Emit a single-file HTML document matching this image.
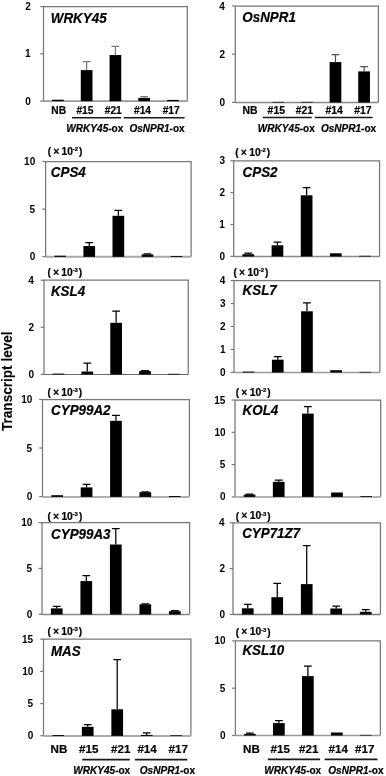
<!DOCTYPE html>
<html><head><meta charset="utf-8"><title>Transcript levels</title>
<style>
html,body{margin:0;padding:0;background:#fff;}
body{width:386px;height:776px;overflow:hidden;}
svg{display:block;}
text{font-family:'Liberation Sans', Arial, sans-serif;font-weight:bold;fill:#000;stroke:#000;stroke-width:0.2px;}
.tk{font-size:10px;stroke-width:0;}
.lb{font-size:10px;}
.gl{font-size:10.05px;}
.ti{font-size:13.4px;font-style:italic;}
.ex{font-size:10px;}
.sp{font-size:6px;}
.yl{font-size:14px;stroke-width:0.1px;}
</style></head>
<body>
<svg width="386" height="776" viewBox="0 0 386 776">
<rect width="386" height="776" fill="#fff"/>
<text class="yl" transform="translate(11.8 431.0) rotate(-90) scale(0.97 1)">Transcript level</text>
<path d="M43.5 101.15V6.55H187.3V101.15" fill="none" stroke="#777" stroke-width="1.25"/>
<path d="M43.5 101.15H187.3" stroke="#999" stroke-width="1.6"/>
<path d="M40.2 101.15H43.5" stroke="#777" stroke-width="1.2"/>
<text class="tk" x="25.15" y="104.65">0</text>
<path d="M40.2 53.85H43.5" stroke="#777" stroke-width="1.2"/>
<text class="tk" x="25.02" y="57.35">1</text>
<path d="M40.2 6.55H43.5" stroke="#777" stroke-width="1.2"/>
<text class="tk" x="25.14" y="10.05">2</text>
<rect x="52.03" y="99.7" width="11.7" height="1.45"/>
<rect x="80.79" y="70.1" width="11.7" height="31.05"/>
<path d="M86.64 70.1V61.6M82.74 61.6H90.54" stroke="#7a7a7a" stroke-width="1.25"/>
<rect x="109.55" y="55" width="11.7" height="46.15"/>
<path d="M115.4 55V46.4M111.5 46.4H119.3" stroke="#7a7a7a" stroke-width="1.25"/>
<rect x="138.31" y="97.9" width="11.7" height="3.25"/>
<path d="M144.16 97.9V96.6M140.26 96.6H148.06" stroke="#7a7a7a" stroke-width="1.25"/>
<rect x="167.07" y="99.9" width="11.7" height="1.25"/>
<text class="ti" transform="translate(50.82 22.65) scale(1 1.05)">WRKY45</text>
<text class="lb" x="51.32" y="114.3" style="font-size:10.2px">NB</text>
<text class="lb" x="76.43" y="114.3" style="font-size:10.2px">#15</text>
<text class="lb" x="104.73" y="114.3" style="font-size:10.2px">#21</text>
<text class="lb" x="134.03" y="114.3" style="font-size:10.2px">#14</text>
<text class="lb" x="162.63" y="114.3" style="font-size:10.2px">#17</text>
<path d="M72 117.75H121M123.8 117.75H184.6" stroke="#1a1a1a" stroke-width="1.6"/>
<text class="gl" x="66.36" y="132.1"><tspan font-style="italic">WRKY45</tspan>-ox</text>
<text class="gl" x="129.41" y="132.1"><tspan font-style="italic">OsNPR1</tspan>-ox</text>
<path d="M235.3 102.4V6H378.4V102.4" fill="none" stroke="#777" stroke-width="1.25"/>
<path d="M235.3 102.5H378.4" stroke="#858585" stroke-width="1.3"/>
<path d="M232 102.4H235.3" stroke="#777" stroke-width="1.2"/>
<text class="tk" x="219.55" y="105.9">0</text>
<path d="M232 54.2H235.3" stroke="#777" stroke-width="1.2"/>
<text class="tk" x="219.54" y="57.7">2</text>
<path d="M232 6H235.3" stroke="#777" stroke-width="1.2"/>
<text class="tk" x="219.19" y="9.5">4</text>
<rect x="272.38" y="101.9" width="11.7" height="0.6"/>
<rect x="301" y="101.9" width="11.7" height="0.6"/>
<rect x="329.62" y="62.1" width="11.7" height="40.4"/>
<path d="M335.47 62.1V54.6M331.57 54.6H339.37" stroke="#505050" stroke-width="1.25"/>
<rect x="358.24" y="71.4" width="11.7" height="31.1"/>
<path d="M364.09 71.4V66.5M360.19 66.5H367.99" stroke="#505050" stroke-width="1.25"/>
<text class="ti" transform="translate(242.35 22.45) scale(1 1.05)">OsNPR1</text>
<text class="lb" x="242.6" y="114" style="font-size:10.4px">NB</text>
<text class="lb" x="267.62" y="114" style="font-size:10.4px">#15</text>
<text class="lb" x="295.82" y="114" style="font-size:10.4px">#21</text>
<text class="lb" x="325.42" y="114" style="font-size:10.4px">#14</text>
<text class="lb" x="354.22" y="114" style="font-size:10.4px">#17</text>
<path d="M262.7 117.5H311.8M314.8 117.5H372.6" stroke="#1a1a1a" stroke-width="1.6"/>
<text class="gl" x="257.86" y="132"><tspan font-style="italic">WRKY45</tspan>-ox</text>
<text class="gl" x="320.91" y="132"><tspan font-style="italic">OsNPR1</tspan>-ox</text>
<path d="M45.6 256.65V161.5H191.1V256.65" fill="none" stroke="#777" stroke-width="1.25"/>
<path d="M45.6 256.85H191.1" stroke="#aaa" stroke-width="2"/>
<path d="M42.3 256.65H45.6" stroke="#777" stroke-width="1.2"/>
<text class="tk" x="29.65" y="260.15">0</text>
<path d="M42.3 209.07H45.6" stroke="#777" stroke-width="1.2"/>
<text class="tk" x="29.52" y="212.57">5</text>
<path d="M42.3 161.5H45.6" stroke="#777" stroke-width="1.2"/>
<text class="tk" x="24.09" y="165">10</text>
<rect x="54.3" y="255.7" width="11.7" height="1.15"/>
<rect x="83.4" y="246" width="11.7" height="10.85"/>
<path d="M89.25 246V242.6M85.35 242.6H93.15" stroke="#000" stroke-width="1.25"/>
<rect x="112.5" y="215.8" width="11.7" height="41.05"/>
<path d="M118.35 215.8V210.4M114.45 210.4H122.25" stroke="#000" stroke-width="1.25"/>
<rect x="141.6" y="254.4" width="11.7" height="2.45"/>
<path d="M147.45 254.4V253.8M143.55 253.8H151.35" stroke="#000" stroke-width="1.25"/>
<rect x="170.7" y="256" width="11.7" height="0.85"/>
<text class="ti" transform="translate(50.85 177.15) scale(1 1.05)">CPS4</text>
<text class="ex" x="47.7" y="155.3">(</text>
<text class="ex" x="53.2" y="155.2" style="font-size:10.4px">×</text>
<text class="ex" x="61.6" y="155.2" style="font-size:10.3px">10</text>
<text class="sp" x="72.8" y="151.3">-2</text>
<text class="ex" x="79.1" y="155.3">)</text>
<path d="M233.7 256.4V160.75H379.55V256.4" fill="none" stroke="#777" stroke-width="1.25"/>
<path d="M233.7 256.5H379.55" stroke="#888" stroke-width="1.4"/>
<path d="M230.4 256.4H233.7" stroke="#777" stroke-width="1.2"/>
<text class="tk" x="219.45" y="259.9">0</text>
<path d="M230.4 224.52H233.7" stroke="#777" stroke-width="1.2"/>
<text class="tk" x="219.32" y="228.02">1</text>
<path d="M230.4 192.63H233.7" stroke="#777" stroke-width="1.2"/>
<text class="tk" x="219.44" y="196.13">2</text>
<path d="M230.4 160.75H233.7" stroke="#777" stroke-width="1.2"/>
<text class="tk" x="219.4" y="164.25">3</text>
<rect x="242.44" y="254.2" width="11.7" height="2.3"/>
<path d="M248.28 254.2V253M244.38 253H252.19" stroke="#000" stroke-width="1.25"/>
<rect x="271.6" y="245.3" width="11.7" height="11.2"/>
<path d="M277.45 245.3V242.2M273.56 242.2H281.35" stroke="#000" stroke-width="1.25"/>
<rect x="300.77" y="195.3" width="11.7" height="61.2"/>
<path d="M306.62 195.3V187.5M302.73 187.5H310.52" stroke="#000" stroke-width="1.25"/>
<rect x="329.94" y="253.3" width="11.7" height="3.2"/>
<rect x="359.12" y="255.8" width="11.7" height="0.7"/>
<text class="ti" transform="translate(242.55 176.65) scale(1 1.05)">CPS2</text>
<text class="ex" x="235.3" y="155.8">(</text>
<text class="ex" x="240.8" y="155.7" style="font-size:10.4px">×</text>
<text class="ex" x="249.2" y="155.7" style="font-size:10.3px">10</text>
<text class="sp" x="260.4" y="151.8">-2</text>
<text class="ex" x="266.7" y="155.8">)</text>
<path d="M44 374.4V280.2H188.25V374.4" fill="none" stroke="#777" stroke-width="1.25"/>
<path d="M44 374.5H188.25" stroke="#6a6a6a" stroke-width="1.2"/>
<path d="M40.7 374.4H44" stroke="#777" stroke-width="1.2"/>
<text class="tk" x="28.55" y="377.9">0</text>
<path d="M40.7 327.3H44" stroke="#777" stroke-width="1.2"/>
<text class="tk" x="28.54" y="330.8">2</text>
<path d="M40.7 280.2H44" stroke="#777" stroke-width="1.2"/>
<text class="tk" x="28.19" y="283.7">4</text>
<rect x="52.57" y="373.6" width="11.7" height="0.9"/>
<rect x="81.43" y="371.5" width="11.7" height="3"/>
<path d="M87.28 371.5V363.2M83.38 363.2H91.18" stroke="#000" stroke-width="1.25"/>
<rect x="110.28" y="322.8" width="11.7" height="51.7"/>
<path d="M116.12 322.8V311.2M112.22 311.2H120.03" stroke="#000" stroke-width="1.25"/>
<rect x="139.13" y="371.1" width="11.7" height="3.4"/>
<path d="M144.98 371.1V370.6M141.08 370.6H148.88" stroke="#000" stroke-width="1.25"/>
<rect x="167.98" y="373.8" width="11.7" height="0.7"/>
<text class="ti" transform="translate(50.96 295.65) scale(1 1.05)">KSL4</text>
<text class="ex" x="47.4" y="275.9">(</text>
<text class="ex" x="52.9" y="275.8" style="font-size:10.4px">×</text>
<text class="ex" x="61.3" y="275.8" style="font-size:10.3px">10</text>
<text class="sp" x="72.5" y="271.9">-3</text>
<text class="ex" x="78.8" y="275.9">)</text>
<path d="M234 372.35V280.55H379.9V372.35" fill="none" stroke="#777" stroke-width="1.25"/>
<path d="M234 372.5H379.9" stroke="#999" stroke-width="1.3"/>
<path d="M230.7 372.35H234" stroke="#777" stroke-width="1.2"/>
<text class="tk" x="220.05" y="375.85">0</text>
<path d="M230.7 349.4H234" stroke="#777" stroke-width="1.2"/>
<text class="tk" x="219.92" y="352.9">1</text>
<path d="M230.7 326.45H234" stroke="#777" stroke-width="1.2"/>
<text class="tk" x="220.04" y="329.95">2</text>
<path d="M230.7 303.5H234" stroke="#777" stroke-width="1.2"/>
<text class="tk" x="220" y="307">3</text>
<path d="M230.7 280.55H234" stroke="#777" stroke-width="1.2"/>
<text class="tk" x="219.69" y="284.05">4</text>
<rect x="242.74" y="371.6" width="11.7" height="0.9"/>
<rect x="271.92" y="359.7" width="11.7" height="12.8"/>
<path d="M277.77 359.7V356.6M273.87 356.6H281.67" stroke="#000" stroke-width="1.25"/>
<rect x="301.1" y="311.3" width="11.7" height="61.2"/>
<path d="M306.95 311.3V302.9M303.05 302.9H310.85" stroke="#000" stroke-width="1.25"/>
<rect x="330.28" y="370.2" width="11.7" height="2.3"/>
<rect x="359.46" y="371.9" width="11.7" height="0.6"/>
<text class="ti" transform="translate(242.56 294.65) scale(1 1.05)">KSL7</text>
<text class="ex" x="233.6" y="276.2">(</text>
<text class="ex" x="239.1" y="276.1" style="font-size:10.4px">×</text>
<text class="ex" x="247.5" y="276.1" style="font-size:10.3px">10</text>
<text class="sp" x="258.7" y="272.2">-2</text>
<text class="ex" x="265" y="276.2">)</text>
<path d="M42.5 496.6V399.5H189.4V496.6" fill="none" stroke="#777" stroke-width="1.25"/>
<path d="M42.5 496.9H189.4" stroke="#b0b0b0" stroke-width="2"/>
<path d="M39.2 496.6H42.5" stroke="#777" stroke-width="1.2"/>
<text class="tk" x="26.75" y="500.1">0</text>
<path d="M39.2 448.05H42.5" stroke="#777" stroke-width="1.2"/>
<text class="tk" x="26.62" y="451.55">5</text>
<path d="M39.2 399.5H42.5" stroke="#777" stroke-width="1.2"/>
<text class="tk" x="21.19" y="403">10</text>
<rect x="51.34" y="495.2" width="11.7" height="1.7"/>
<rect x="80.72" y="487.4" width="11.7" height="9.5"/>
<path d="M86.57 487.4V484.3M82.67 484.3H90.47" stroke="#000" stroke-width="1.25"/>
<rect x="110.1" y="420.8" width="11.7" height="76.1"/>
<path d="M115.95 420.8V415.4M112.05 415.4H119.85" stroke="#000" stroke-width="1.25"/>
<rect x="139.48" y="492.2" width="11.7" height="4.7"/>
<path d="M145.33 492.2V491.8M141.43 491.8H149.23" stroke="#000" stroke-width="1.25"/>
<rect x="168.86" y="496" width="11.7" height="0.9"/>
<text class="ti" transform="translate(51.05 415.25) scale(1 1.05)">CYP99A2</text>
<text class="ex" x="47.4" y="395.8">(</text>
<text class="ex" x="52.9" y="395.7" style="font-size:10.4px">×</text>
<text class="ex" x="61.3" y="395.7" style="font-size:10.3px">10</text>
<text class="sp" x="72.5" y="391.8">-3</text>
<text class="ex" x="78.8" y="395.8">)</text>
<path d="M235 496.9V400.05H380.7V496.9" fill="none" stroke="#777" stroke-width="1.25"/>
<path d="M235 496.9H380.7" stroke="#b3b3b3" stroke-width="2"/>
<path d="M231.7 496.9H235" stroke="#777" stroke-width="1.2"/>
<text class="tk" x="219.95" y="500.4">0</text>
<path d="M231.7 464.62H235" stroke="#777" stroke-width="1.2"/>
<text class="tk" x="219.82" y="468.12">5</text>
<path d="M231.7 432.33H235" stroke="#777" stroke-width="1.2"/>
<text class="tk" x="214.39" y="435.83">10</text>
<path d="M231.7 400.05H235" stroke="#777" stroke-width="1.2"/>
<text class="tk" x="214.26" y="403.55">15</text>
<rect x="243.72" y="494.6" width="11.7" height="2.3"/>
<path d="M249.57 494.6V494M245.67 494H253.47" stroke="#000" stroke-width="1.25"/>
<rect x="272.86" y="481.8" width="11.7" height="15.1"/>
<path d="M278.71 481.8V480.1M274.81 480.1H282.61" stroke="#000" stroke-width="1.25"/>
<rect x="302" y="413.6" width="11.7" height="83.3"/>
<path d="M307.85 413.6V406.5M303.95 406.5H311.75" stroke="#000" stroke-width="1.25"/>
<rect x="331.14" y="492.5" width="11.7" height="4.4"/>
<rect x="360.28" y="496.1" width="11.7" height="0.8"/>
<text class="ti" transform="translate(242.56 414.65) scale(1 1.05)">KOL4</text>
<text class="ex" x="235.8" y="396.2">(</text>
<text class="ex" x="241.3" y="396.1" style="font-size:10.4px">×</text>
<text class="ex" x="249.7" y="396.1" style="font-size:10.3px">10</text>
<text class="sp" x="260.9" y="392.2">-2</text>
<text class="ex" x="267.2" y="396.2">)</text>
<path d="M42 614.35V522.6H189.6V614.35" fill="none" stroke="#777" stroke-width="1.25"/>
<path d="M42 614.5H189.6" stroke="#858585" stroke-width="1.3"/>
<path d="M38.7 614.35H42" stroke="#777" stroke-width="1.2"/>
<text class="tk" x="26.75" y="617.85">0</text>
<path d="M38.7 568.48H42" stroke="#777" stroke-width="1.2"/>
<text class="tk" x="26.62" y="571.98">5</text>
<path d="M38.7 522.6H42" stroke="#777" stroke-width="1.2"/>
<text class="tk" x="21.19" y="526.1">10</text>
<rect x="50.91" y="608.4" width="11.7" height="6.1"/>
<path d="M56.76 608.4V606.4M52.86 606.4H60.66" stroke="#000" stroke-width="1.25"/>
<rect x="80.43" y="581.1" width="11.7" height="33.4"/>
<path d="M86.28 581.1V575.7M82.38 575.7H90.18" stroke="#000" stroke-width="1.25"/>
<rect x="109.95" y="544.5" width="11.7" height="70"/>
<path d="M115.8 544.5V528.5M111.9 528.5H119.7" stroke="#000" stroke-width="1.25"/>
<rect x="139.47" y="604.3" width="11.7" height="10.2"/>
<path d="M145.32 604.3V603.8M141.42 603.8H149.22" stroke="#000" stroke-width="1.25"/>
<rect x="168.99" y="611.2" width="11.7" height="3.3"/>
<path d="M174.84 611.2V610.6M170.94 610.6H178.74" stroke="#000" stroke-width="1.25"/>
<text class="ti" transform="translate(51.05 538.75) scale(1 1.05)">CYP99A3</text>
<text class="ex" x="47.5" y="520.3">(</text>
<text class="ex" x="53" y="520.2" style="font-size:10.4px">×</text>
<text class="ex" x="61.4" y="520.2" style="font-size:10.3px">10</text>
<text class="sp" x="72.6" y="516.3">-3</text>
<text class="ex" x="78.9" y="520.3">)</text>
<path d="M233 614.45V522.8H380.45V614.45" fill="none" stroke="#777" stroke-width="1.25"/>
<path d="M233 614.5H380.45" stroke="#777" stroke-width="1.3"/>
<path d="M229.7 614.45H233" stroke="#777" stroke-width="1.2"/>
<text class="tk" x="219.45" y="617.95">0</text>
<path d="M229.7 568.62H233" stroke="#777" stroke-width="1.2"/>
<text class="tk" x="219.44" y="572.12">2</text>
<path d="M229.7 522.8H233" stroke="#777" stroke-width="1.2"/>
<text class="tk" x="219.09" y="526.3">4</text>
<rect x="241.9" y="608.3" width="11.7" height="6.2"/>
<path d="M247.75 608.3V604.4M243.84 604.4H251.65" stroke="#000" stroke-width="1.25"/>
<rect x="271.38" y="597.2" width="11.7" height="17.3"/>
<path d="M277.24 597.2V583.4M273.34 583.4H281.13" stroke="#000" stroke-width="1.25"/>
<rect x="300.88" y="584.1" width="11.7" height="30.4"/>
<path d="M306.73 584.1V545.6M302.83 545.6H310.62" stroke="#000" stroke-width="1.25"/>
<rect x="330.36" y="608.5" width="11.7" height="6"/>
<path d="M336.21 608.5V606.2M332.31 606.2H340.11" stroke="#000" stroke-width="1.25"/>
<rect x="359.85" y="611.8" width="11.7" height="2.7"/>
<path d="M365.7 611.8V609.6M361.81 609.6H369.6" stroke="#000" stroke-width="1.25"/>
<text class="ti" transform="translate(242.15 537.75) scale(1 1.05)">CYP71Z7</text>
<text class="ex" x="235.8" y="519.5">(</text>
<text class="ex" x="241.3" y="519.4" style="font-size:10.4px">×</text>
<text class="ex" x="249.7" y="519.4" style="font-size:10.3px">10</text>
<text class="sp" x="260.9" y="515.5">-3</text>
<text class="ex" x="267.2" y="519.5">)</text>
<path d="M43.5 735.75V639.2H190.9V735.75" fill="none" stroke="#777" stroke-width="1.25"/>
<path d="M43.5 735.9H190.9" stroke="#aaa" stroke-width="2"/>
<path d="M40.2 735.75H43.5" stroke="#777" stroke-width="1.2"/>
<text class="tk" x="27.75" y="739.25">0</text>
<path d="M40.2 703.57H43.5" stroke="#777" stroke-width="1.2"/>
<text class="tk" x="27.62" y="707.07">5</text>
<path d="M40.2 671.38H43.5" stroke="#777" stroke-width="1.2"/>
<text class="tk" x="22.19" y="674.88">10</text>
<path d="M40.2 639.2H43.5" stroke="#777" stroke-width="1.2"/>
<text class="tk" x="22.06" y="642.7">15</text>
<rect x="52.39" y="735" width="11.7" height="0.9"/>
<rect x="81.87" y="726.8" width="11.7" height="9.1"/>
<path d="M87.72 726.8V724.7M83.82 724.7H91.62" stroke="#000" stroke-width="1.25"/>
<rect x="111.35" y="709.3" width="11.7" height="26.6"/>
<path d="M117.2 709.3V659.6M113.3 659.6H121.1" stroke="#000" stroke-width="1.25"/>
<rect x="140.83" y="734.9" width="11.7" height="1"/>
<path d="M146.68 734.9V732.9M142.78 732.9H150.58" stroke="#000" stroke-width="1.25"/>
<rect x="170.31" y="735.2" width="11.7" height="0.7"/>
<text class="ti" transform="translate(50.96 655.65) scale(1 1.05)">MAS</text>
<text class="ex" x="47.4" y="635.2">(</text>
<text class="ex" x="52.9" y="635.1" style="font-size:10.4px">×</text>
<text class="ex" x="61.3" y="635.1" style="font-size:10.3px">10</text>
<text class="sp" x="72.5" y="631.2">-3</text>
<text class="ex" x="78.8" y="635.2">)</text>
<text class="lb" x="50.62" y="753.1" style="font-size:11.6px">NB</text>
<text class="lb" x="79.1" y="753.1" style="font-size:11.6px">#15</text>
<text class="lb" x="111" y="753.1" style="font-size:11.6px">#21</text>
<text class="lb" x="137.4" y="753.1" style="font-size:11.6px">#14</text>
<text class="lb" x="168.5" y="753.1" style="font-size:11.6px">#17</text>
<path d="M82.2 759.6H129.8M135 759.6H187.4" stroke="#1a1a1a" stroke-width="1.6"/>
<text class="gl" x="73.26" y="774.1"><tspan font-style="italic">WRKY45</tspan>-ox</text>
<text class="gl" x="139.81" y="774.1"><tspan font-style="italic">OsNPR1</tspan>-ox</text>
<path d="M235.4 735.5V640.9H380.35V735.5" fill="none" stroke="#777" stroke-width="1.25"/>
<path d="M235.4 735.5H380.35" stroke="#999" stroke-width="1.3"/>
<path d="M232.1 735.5H235.4" stroke="#777" stroke-width="1.2"/>
<text class="tk" x="219.95" y="739">0</text>
<path d="M232.1 688.2H235.4" stroke="#777" stroke-width="1.2"/>
<text class="tk" x="219.82" y="691.7">5</text>
<path d="M232.1 640.9H235.4" stroke="#777" stroke-width="1.2"/>
<text class="tk" x="214.39" y="644.4">10</text>
<rect x="244.05" y="733.9" width="11.7" height="1.6"/>
<path d="M249.9 733.9V733.1M246 733.1H253.8" stroke="#000" stroke-width="1.25"/>
<rect x="273.03" y="723.1" width="11.7" height="12.4"/>
<path d="M278.88 723.1V720.5M274.99 720.5H282.78" stroke="#000" stroke-width="1.25"/>
<rect x="302.02" y="676.1" width="11.7" height="59.4"/>
<path d="M307.88 676.1V666.1M303.98 666.1H311.77" stroke="#000" stroke-width="1.25"/>
<rect x="331.01" y="732.5" width="11.7" height="3"/>
<rect x="360" y="734.9" width="11.7" height="0.6"/>
<text class="ti" transform="translate(242.46 655.25) scale(1 1.05)">KSL10</text>
<text class="ex" x="235.8" y="635.5">(</text>
<text class="ex" x="241.3" y="635.4" style="font-size:10.4px">×</text>
<text class="ex" x="249.7" y="635.4" style="font-size:10.3px">10</text>
<text class="sp" x="260.9" y="631.5">-3</text>
<text class="ex" x="267.2" y="635.5">)</text>
<text class="lb" x="243.12" y="753.1" style="font-size:11.6px">NB</text>
<text class="lb" x="270.6" y="753.1" style="font-size:11.6px">#15</text>
<text class="lb" x="299.1" y="753.1" style="font-size:11.6px">#21</text>
<text class="lb" x="328.6" y="753.1" style="font-size:11.6px">#14</text>
<text class="lb" x="355.1" y="753.1" style="font-size:11.6px">#17</text>
<path d="M267.8 759.4H320.1M324.7 759.4H377.5" stroke="#1a1a1a" stroke-width="1.6"/>
<text class="gl" x="264.26" y="774"><tspan font-style="italic">WRKY45</tspan>-ox</text>
<text class="gl" x="328.31" y="774"><tspan font-style="italic">OsNPR1</tspan>-ox</text>
</svg>
</body></html>
